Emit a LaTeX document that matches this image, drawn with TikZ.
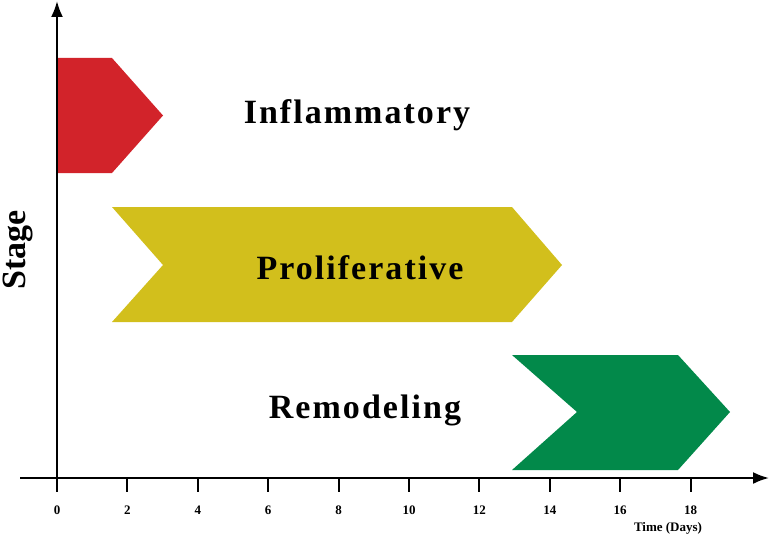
\documentclass[tikz,border=0pt]{standalone}
\usepackage{fontspec}
\setmainfont{Liberation Serif}
\usetikzlibrary{arrows.meta}
\definecolor{cred}{HTML}{D2232A}
\definecolor{cyel}{HTML}{D2BF1C}
\definecolor{cgrn}{HTML}{02894A}
\begin{document}
\begin{tikzpicture}[x=1pt,y=-1pt,
  lbl/.style={font=\bfseries\fontsize{34}{36}\selectfont},
  tk/.style={font=\bfseries\fontsize{13}{14}\selectfont},
  axis/.style={line width=2.2pt,-{Latex[length=16pt,width=12pt]}}]
\useasboundingbox (0,0) rectangle (771,551);
\fill[cred] (57,58) -- (112,58) -- (163,115.5) -- (112,173) -- (57,173) -- cycle;
\fill[cyel] (112,207) -- (512,207) -- (562,265) -- (512,322) -- (112,322) -- (163,265) -- cycle;
\fill[cgrn] (512,355) -- (678,355) -- (730,412) -- (678,470) -- (512,470) -- (577,412) -- cycle;
\coordinate (o) at (57,478);
\coordinate (xe) at (769,478);
\coordinate (xs) at (20,478);
\coordinate (ye) at (57,1);
\draw[axis] (xs) -- (xe);
\draw[axis] (o) -- (ye);
\foreach \i in {0,2,...,18}{
  \draw[line width=2pt] ({57+35.2*\i},478) -- ({57+35.2*\i},492);
  \node[tk] at ({57+35.2*\i},510) {\i};
}
\node[tk] (t) at (668,528) {Time (Days)};
\node[lbl,rotate=90] (s) at (18,250) {Stage};
\node[lbl] (a) at (357,115) {\addfontfeature{LetterSpace=6}Inflammatory};
\node[lbl] (b) at (360,268) {\addfontfeature{LetterSpace=6}Proliferative};
\node[lbl] (c) at (365,410) {\addfontfeature{LetterSpace=6}Remodeling};
\end{tikzpicture}
\end{document}
